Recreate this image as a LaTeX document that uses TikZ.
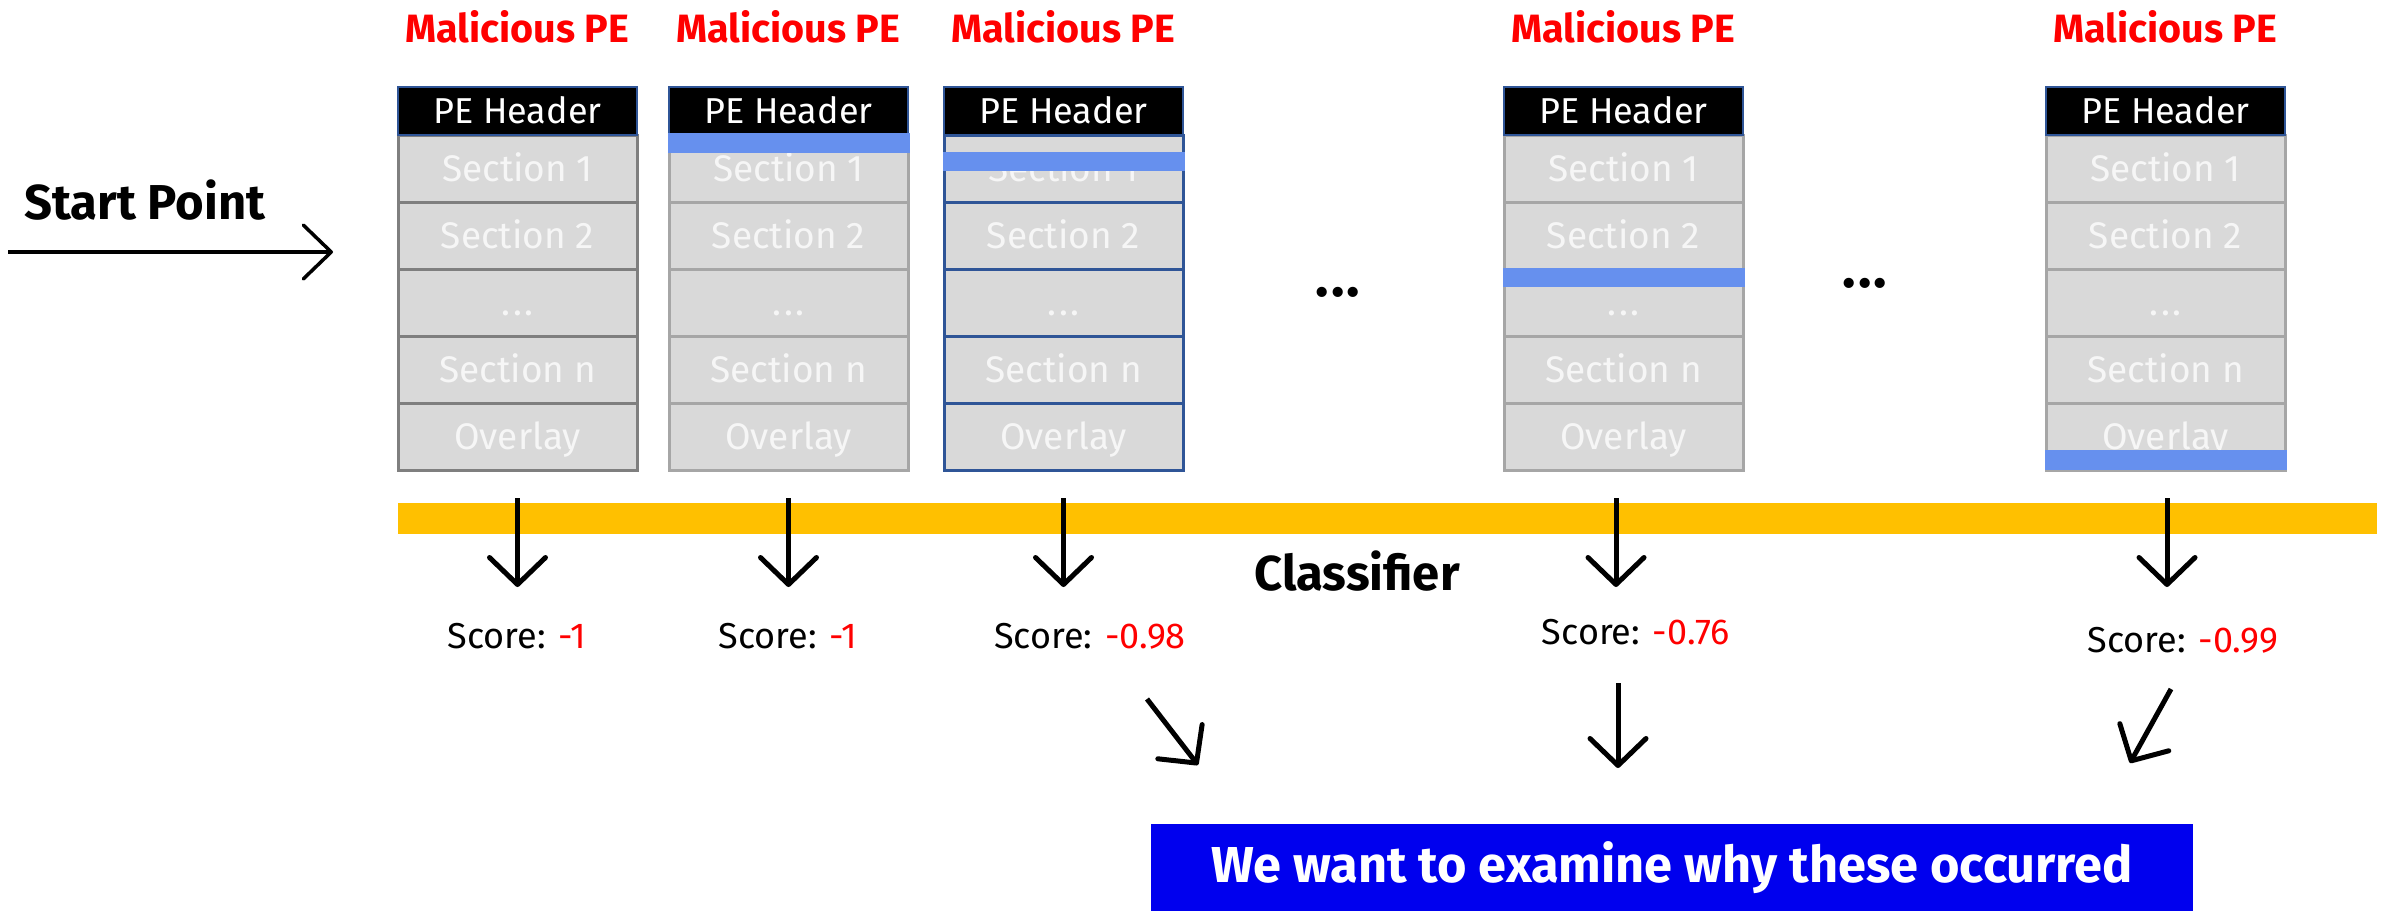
\documentclass[tikz,border=0pt]{standalone}
\usepackage{fontspec}
\setmainfont{Fira Sans}
\usetikzlibrary{arrows.meta}
\definecolor{secfill}{HTML}{D9D9D9}
\definecolor{sectext}{HTML}{F6F6F6}
\definecolor{hdrblue}{HTML}{2F5597}
\definecolor{grayA}{HTML}{7F7F7F}
\definecolor{grayB}{HTML}{A6A6A6}
\definecolor{barblue}{HTML}{6690EE}
\definecolor{orangebar}{HTML}{FFC000}
\definecolor{boxblue}{HTML}{0000EE}
\tikzset{
  secbox/.style={rectangle, minimum width=239pt, minimum height=67pt, inner sep=0pt,
    fill=secfill, line width=3pt, text=sectext,
    font=\fontsize{37}{44}\selectfont, text height=25pt, text depth=0pt},
  hdrbox/.style={rectangle, minimum width=239pt, minimum height=48pt, inner sep=0pt,
    fill=black, draw=hdrblue, line width=2pt, text=white,
    font=\fontsize{36}{43}\selectfont, text height=24pt, text depth=0pt},
  mal/.style={text=red, inner sep=0pt, font=\bfseries\fontsize{39.5}{47}\selectfont},
  score/.style={inner sep=0pt, font=\fontsize{36}{43}\selectfont, text height=25pt, text depth=0pt},
  bigbold/.style={inner sep=0pt, font=\bfseries\fontsize{49}{58}\selectfont},
  dotsnode/.style={inner sep=0pt, font=\bfseries\fontsize{56}{64}\selectfont},
  darr/.style={line width=5pt, -{Straight Barb[length=27pt, width=56pt, round]}},
  sarr/.style={line width=3.5pt, -{Straight Barb[length=28pt, width=54pt, round]}},
  bluebar/.style={fill=barblue}
}
\newcommand\peBox[3]{%
  \node[secbox,draw=#3] (#1a) at (#2,168.5) {Section 1};
  \node[secbox,draw=#3] (#1b) at (#2,235.5) {Section 2};
  \node[secbox,draw=#3] (#1c) at (#2,302.5) {.\hspace{3pt}.\hspace{3pt}.};
  \node[secbox,draw=#3] (#1d) at (#2,369.5) {Section n};
  \node[secbox,draw=#3] (#1e) at (#2,436.5) {Overlay};
  \node[hdrbox] (#1h) at (#2,111) {PE Header};
  \node[mal] (#1m) at (#2,27) {Malicious PE};
}
\begin{document}
\begin{tikzpicture}[x=1pt, y=-1pt]
\useasboundingbox (0,0) rectangle (2384,911);

% start point
\node[bigbold] (start) at (145,200) {Start Point};
\coordinate (s0) at (8,252);
\coordinate (s1) at (333,252);
\draw[sarr] (s0) -- (s1);

% PE boxes
\peBox{p1}{517.5}{grayA}
\peBox{p2}{788.5}{grayB}
\peBox{p3}{1063.5}{hdrblue}
\peBox{p4}{1623.5}{grayB}
\peBox{p5}{2165.5}{grayB}

% modified regions
\fill[bluebar] (667.5,133) rectangle (909.5,153);
\fill[bluebar] (942.5,152) rectangle (1184.5,171);
\fill[bluebar] (1502.5,268) rectangle (1744.5,287);
\fill[bluebar] (2044.5,450) rectangle (2286.5,470);

% ellipses between boxes
\node[dotsnode] (dots1) at (1338,292) {.\hspace{2pt}.\hspace{2pt}.};
\node[dotsnode] (dots2) at (1865,283) {.\hspace{2pt}.\hspace{2pt}.};

% classifier bar
\fill[orangebar] (398,503) rectangle (2377,534);
\node[bigbold] (clf) at (1357,571) {Classifier};

% scores
\node[score] (sc1) at (517,636) {Score: \textcolor{red}{-1}};
\node[score] (sc2) at (788,636) {Score: \textcolor{red}{-1}};
\node[score] (sc3) at (1090,636) {Score: \textcolor{red}{-0.98}};
\node[score] (sc4) at (1636,632) {Score: \textcolor{red}{-0.76}};
\node[score] (sc5) at (2183,640) {Score: \textcolor{red}{-0.99}};

% classifier arrows
\coordinate (t1) at (517.5,498);  \coordinate (h1) at (517.5,587);
\coordinate (t2) at (788.5,498);  \coordinate (h2) at (788.5,587);
\coordinate (t3) at (1063.5,498); \coordinate (h3) at (1063.5,587);
\coordinate (t4) at (1616,498);   \coordinate (h4) at (1616,587);
\coordinate (t5) at (2167,498);   \coordinate (h5) at (2167,587);
\foreach \i in {1,...,5}{\draw[darr] (t\i) -- (h\i);}

% goal box
\node[inner sep=0pt, font=\bfseries\fontsize{50.5}{60}\selectfont, fill=boxblue, text=white, minimum width=1042pt, minimum height=87pt] (goal) at (1672,867.5) {We want to examine why these occurred};

% arrows to goal
\coordinate (d1s) at (1147,699); \coordinate (d1e) at (1198,765);
\coordinate (d2s) at (1618,683); \coordinate (d2e) at (1618,768);
\coordinate (d3s) at (2171,689); \coordinate (d3e) at (2130,763);
\draw[darr] (d1s) -- (d1e);
\draw[darr] (d2s) -- (d2e);
\draw[darr] (d3s) -- (d3e);
\end{tikzpicture}
\end{document}
